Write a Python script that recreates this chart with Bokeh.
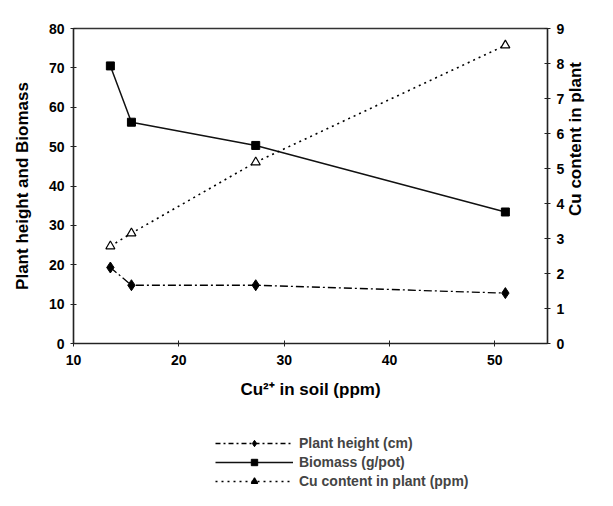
import math
from bokeh.plotting import figure
from bokeh.models import Range1d, LinearAxis, Legend, LegendItem, FixedTicker
from bokeh.layouts import column
from bokeh.embed import file_html
from bokeh.resources import INLINE

cu_soil = [13.5, 15.5, 27.3, 51.0]
plant_height = [19.3, 14.8, 14.8, 12.8]
biomass = [70.5, 56.2, 50.3, 33.4]
cu_plant = [2.78, 3.15, 5.18, 8.52]

x_ticks = [10, 20, 30, 40, 50]
left_ticks = [0, 10, 20, 30, 40, 50, 60, 70, 80]
right_ticks = [0, 1, 2, 3, 4, 5, 6, 7, 8, 9]

FONT = "Liberation Sans"

p = figure(width=597, height=415, output_backend="svg", toolbar_location=None,
           x_range=Range1d(10, 55), y_range=Range1d(0, 80),
           min_border_left=73, min_border_top=28, min_border_right=47, min_border_bottom=72)
p.extra_y_ranges = {"cu": Range1d(0, 9)}
p.xgrid.visible = False
p.ygrid.visible = False
p.outline_line_color = "#333333"
p.outline_line_width = 1.5
p.background_fill_color = "white"
p.border_fill_color = "white"

p.xaxis.ticker = FixedTicker(ticks=x_ticks)
p.yaxis.ticker = FixedTicker(ticks=left_ticks)
p.xaxis.axis_label = "Cu²⁺ in soil (ppm)"
p.yaxis.axis_label = "Plant height and Biomass"

# leading no-break spaces lift the (bottom-to-top) title towards the top of the axis
ax2 = LinearAxis(y_range_name="cu", ticker=FixedTicker(ticks=right_ticks),
                 axis_label="\u00a0" * 27 + "Cu content in plant")
p.add_layout(ax2, "right")

for ax in [p.xaxis[0], p.yaxis[0], ax2]:
    ax.axis_line_color = "#222222"
    ax.axis_line_width = 1.2
    ax.major_tick_in = 3
    ax.major_tick_out = 3
    ax.minor_tick_line_color = None
    ax.major_tick_line_color = "#222222"
    ax.major_label_text_font = FONT
    ax.major_label_text_font_style = "bold"
    ax.major_label_text_font_size = "14px"
    ax.major_label_text_color = "black"
    ax.axis_label_text_font = FONT
    ax.axis_label_text_font_style = "bold"
    ax.axis_label_text_font_size = "17px"
    ax.axis_label_text_color = "black"

p.xaxis[0].major_label_standoff = 8
p.yaxis[0].major_label_standoff = 6
ax2.major_label_standoff = 6
p.xaxis[0].axis_label_standoff = 12
p.yaxis[0].axis_label_standoff = 14
ax2.axis_label_standoff = 8
ax2.axis_label_orientation = math.pi / 2
ax2.axis_label_align = "start"

p.line(cu_soil, plant_height, line_color="black", line_width=1.3, line_dash="8 3 2 3")
p.scatter(cu_soil, plant_height, marker="diamond", size=11, fill_color="black", line_color="black")
p.line(cu_soil, biomass, line_color="#111111", line_width=1.5)
p.scatter(cu_soil, biomass, marker="square", size=8, fill_color="black", line_color="black")
p.line(cu_soil, cu_plant, y_range_name="cu", line_color="black", line_width=1.6, line_dash="2 4")
p.scatter(cu_soil, cu_plant, y_range_name="cu", marker="triangle", size=9,
          fill_color="white", line_color="black", line_width=1.2)

# legend panel below (its glyphs are the same series, kept outside the visible range)
q = figure(width=597, height=75, output_backend="svg", toolbar_location=None,
           x_range=Range1d(0, 1), y_range=Range1d(0, 1),
           x_axis_type=None, y_axis_type=None, min_border=0)
q.xgrid.visible = False
q.ygrid.visible = False
q.outline_line_color = None

l1 = q.line(cu_soil, plant_height, line_color="black", line_width=1.3, line_dash="5 3 2 3")
m1 = q.scatter(cu_soil, plant_height, marker="diamond", size=11, fill_color="black", line_color="black")
l2 = q.line(cu_soil, biomass, line_color="#111111", line_width=1.5)
m2 = q.scatter(cu_soil, biomass, marker="square", size=8, fill_color="black", line_color="black")
l3 = q.line(cu_soil, cu_plant, line_color="black", line_width=1.6, line_dash="2 4")
m3 = q.scatter(cu_soil, cu_plant, marker="triangle", size=9,
               fill_color="black", line_color="black", line_width=1.2)

legend = Legend(items=[
    LegendItem(label="Plant height (cm)", renderers=[l1, m1]),
    LegendItem(label="Biomass (g/pot)", renderers=[l2, m2]),
    LegendItem(label="Cu content in plant (ppm)", renderers=[l3, m3]),
], location=(142, 1), orientation="vertical")
legend.border_line_color = None
legend.background_fill_alpha = 0
legend.label_text_font = FONT
legend.label_text_font_style = "bold"
legend.label_text_font_size = "14px"
legend.glyph_width = 78
legend.glyph_height = 16
legend.label_height = 16
legend.spacing = 3
legend.padding = 0
legend.margin = 0
legend.label_standoff = 6
q.add_layout(legend, "center")

layout = column(p, q, spacing=0)
open("out.html", "w").write(file_html(layout, INLINE))
